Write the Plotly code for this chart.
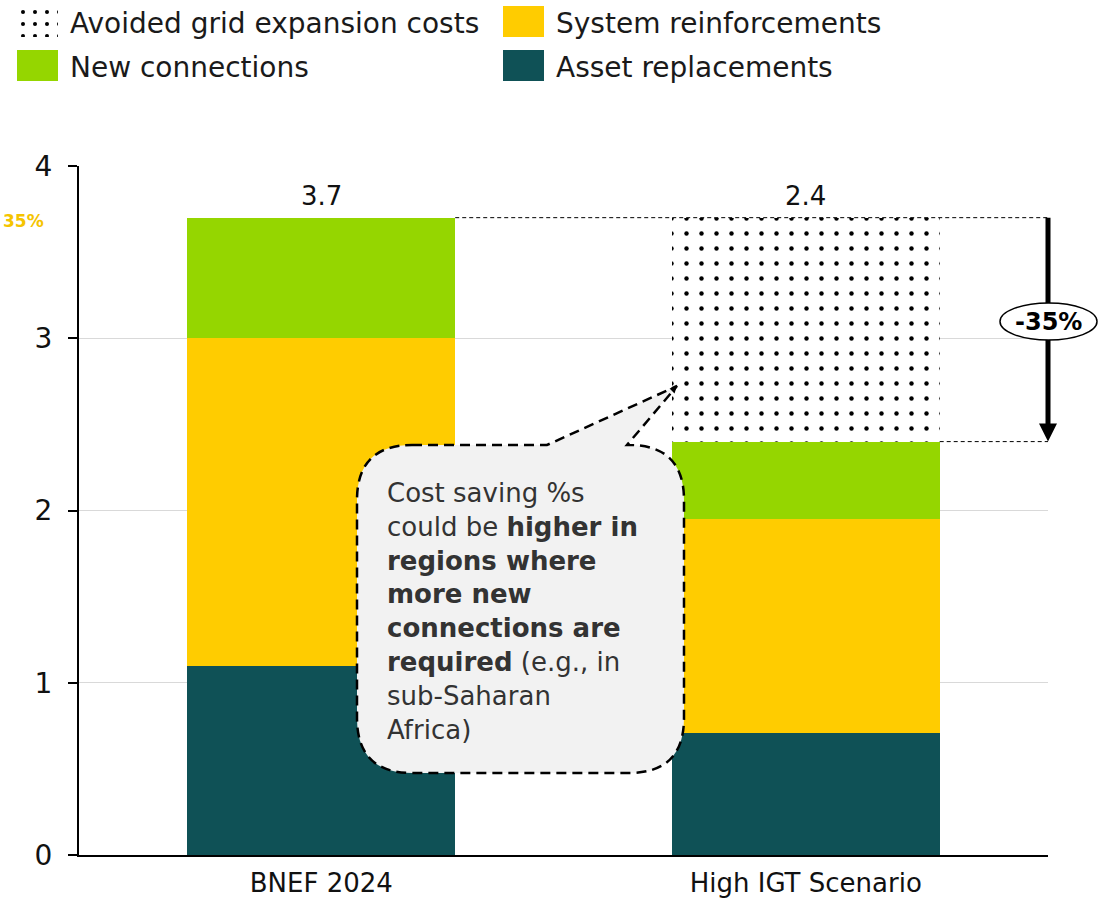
import plotly.graph_objects as go

# ---- data -------------------------------------------------------------
scenarios = ["BNEF 2024", "High IGT Scenario"]
asset_replacements = [1.1, 0.71]
system_reinforcements = [1.9, 1.24]
new_connections = [0.7, 0.45]
avoided_costs = [0.0, 1.3]
totals = [3.7, 2.4]
saving_label = "-35%"
side_label = "35%"
y_ticks = [0, 1, 2, 3, 4]

# ---- styling ----------------------------------------------------------
W, H = 1114, 907
FONT = "DejaVu Sans"
TEAL = "#0f5156"
YELLOW = "#ffcc00"
GREEN = "#95d600"
BAR_WIDTH = 0.553
DOTS = dict(shape=".", fgcolor="#000000", bgcolor="white", fgopacity=1,
            fillmode="replace", size=15, solidity=0.07)
DOTS_SWATCH = dict(shape=".", fgcolor="#000000", bgcolor="white", fgopacity=1,
                   fillmode="replace", size=12, solidity=0.09)

# plot box in pixels
PL, PR, PT, PB = 79, 1048, 166, 855


def fx(px):
    return px / W


def fy(py):
    return (H - py) / H


fig = go.Figure()

fig.add_bar(x=scenarios, y=asset_replacements, name="Asset replacements",
            marker=dict(color=TEAL, line=dict(width=0)), width=BAR_WIDTH)
fig.add_bar(x=scenarios, y=system_reinforcements, name="System reinforcements",
            marker=dict(color=YELLOW, line=dict(width=0)), width=BAR_WIDTH)
fig.add_bar(x=scenarios, y=new_connections, name="New connections",
            marker=dict(color=GREEN, line=dict(width=0)), width=BAR_WIDTH)
fig.add_bar(x=scenarios, y=avoided_costs, name="Avoided grid expansion costs",
            marker=dict(color="white", line=dict(width=0), pattern=DOTS),
            width=BAR_WIDTH)

# dotted legend swatch drawn as a one-bar trace on its own small axes
fig.add_bar(x=[0], y=[1], width=1, xaxis="x2", yaxis="y2", showlegend=False,
            hoverinfo="skip",
            marker=dict(color="white", line=dict(width=0), pattern=DOTS_SWATCH))

stack_tops = [a + b + c + d for a, b, c, d in
              zip(asset_replacements, system_reinforcements, new_connections, avoided_costs)]

annotations = []
for i, (top, tot) in enumerate(zip(stack_tops, totals)):
    annotations.append(dict(x=scenarios[i], y=top, xref="x", yref="y",
                            text=f"{tot:.1f}", showarrow=False, yanchor="bottom",
                            yshift=5, font=dict(family=FONT, size=26, color="#111111")))

# legend
legend_items = [
    ("Avoided grid expansion costs", None, 17, 6),
    ("System reinforcements", YELLOW, 503, 6),
    ("New connections", GREEN, 17, 50),
    ("Asset replacements", TEAL, 503, 50),
]
shapes = []
for label, color, sx, sy in legend_items:
    if color is not None:
        shapes.append(dict(type="rect", xref="paper", yref="paper",
                           x0=fx(sx), x1=fx(sx + 41), y0=fy(sy + 31), y1=fy(sy),
                           fillcolor=color, line=dict(width=0)))
    annotations.append(dict(x=fx(sx + 51), y=fy(sy + 17), xref="paper", yref="paper",
                            text=label, showarrow=False, xanchor="left", yanchor="middle",
                            font=dict(family=FONT, size=28, color="#1a1a1a")))

# dashed reference lines at both stack totals
half = BAR_WIDTH / 2
dash_line = dict(color="black", width=1, dash="4px,3px")
shapes.append(dict(type="line", xref="x", yref="y", x0=0 + half, x1=1.5,
                   y0=stack_tops[0], y1=stack_tops[0], line=dash_line, layer="above"))
shapes.append(dict(type="line", xref="x", yref="y", x0=1 + half, x1=1.5,
                   y0=totals[1], y1=totals[1], line=dash_line, layer="above"))

# reduction arrow on the right edge
head = 18 / ((PB - PT) / 4)
ax = fx(PR)
shapes.append(dict(type="line", xref="paper", yref="y", x0=ax, x1=ax,
                   y0=stack_tops[0], y1=totals[1] + head * 0.9,
                   line=dict(color="black", width=5), layer="above"))
shapes.append(dict(type="path", xref="paper", yref="y",
                   path=f"M {ax},{totals[1]} L {fx(PR - 9)},{totals[1] + head} "
                        f"L {fx(PR + 9)},{totals[1] + head} Z",
                   fillcolor="black", line=dict(width=0), layer="above"))
shapes.append(dict(type="circle", xref="paper", yref="paper",
                   x0=fx(1000), x1=fx(1097), y0=fy(340), y1=fy(303),
                   fillcolor="white", line=dict(color="black", width=1.5), layer="above"))
annotations.append(dict(x=fx(1048), y=fy(322), xref="paper", yref="paper",
                        text=f"<b>{saving_label}</b>", showarrow=False,
                        xanchor="center", yanchor="middle",
                        font=dict(family=FONT, size=24, color="black")))

# small label at the left edge
annotations.append(dict(x=fx(1), y=fy(221), xref="paper", yref="paper",
                        text=f"<b>{side_label}</b>", showarrow=False,
                        xanchor="left", yanchor="middle",
                        font=dict(family=FONT, size=17, color="#f5c400")))

# callout bubble with tail
L, R, T, B, r = 357, 684, 445, 773, 55
TIP = (677, 386)
pts = [
    ("M", [(L + r, T)]),
    ("L", [(547, T)]),
    ("L", [TIP]),
    ("L", [(627, T)]),
    ("L", [(R - r, T)]),
    ("Q", [(R, T), (R, T + r)]),
    ("L", [(R, B - r)]),
    ("Q", [(R, B), (R - r, B)]),
    ("L", [(L + r, B)]),
    ("Q", [(L, B), (L, B - r)]),
    ("L", [(L, T + r)]),
    ("Q", [(L, T), (L + r, T)]),
]
path = " ".join(cmd + " " + " ".join(f"{fx(x):.5f},{fy(y):.5f}" for x, y in p)
                for cmd, p in pts) + " Z"
shapes.append(dict(type="path", xref="paper", yref="paper", path=path,
                   fillcolor="#f2f2f2", line=dict(color="black", width=2.5, dash="10px,6px"),
                   layer="above"))
# small arrow tip at the end of the tail
annotations.append(dict(x=fx(TIP[0]), y=fy(TIP[1]), xref="paper", yref="paper",
                        showarrow=True, ax=-6, ay=6, axref="pixel", ayref="pixel",
                        arrowhead=2, arrowsize=0.7, arrowwidth=2, arrowcolor="black",
                        standoff=0, text=""))

callout = ("Cost saving %s<br>could be <b>higher in</b><br><b>regions where</b><br>"
           "<b>more new</b><br><b>connections are</b><br><b>required</b> (e.g., in<br>"
           "sub-Saharan<br>Africa)")
annotations.append(dict(x=fx(385), y=fy(476), xref="paper", yref="paper",
                        text=callout, showarrow=False, xanchor="left", yanchor="top",
                        align="left", font=dict(family=FONT, size=26, color="#333333")))

fig.update_layout(
    width=W, height=H,
    margin=dict(l=0, r=0, t=0, b=0),
    paper_bgcolor="white", plot_bgcolor="white",
    barmode="stack", bargap=1 - BAR_WIDTH,
    showlegend=False,
    font=dict(family=FONT, size=26, color="#111111"),
    xaxis=dict(domain=[fx(PL), fx(PR)], showline=True, linecolor="black", linewidth=2,
               ticks="", showgrid=False, zeroline=False, range=[-0.5, 1.5],
               tickfont=dict(size=26, color="#111111"), ticklabelstandoff=4,
               automargin=False, fixedrange=True),
    yaxis=dict(domain=[fy(PB), fy(PT)], range=[0, 4], tickvals=y_ticks,
               showline=True, linecolor="black", linewidth=2,
               ticks="outside", ticklen=9, tickwidth=2, tickcolor="black",
               showgrid=True, gridcolor="#d9d9d9", gridwidth=1, zeroline=False,
               tickfont=dict(size=28, color="#111111"), ticklabelstandoff=10,
               automargin=False, fixedrange=True),
    xaxis2=dict(domain=[fx(17), fx(58)], range=[-0.5, 0.5], visible=False,
                anchor="y2", automargin=False, fixedrange=True),
    yaxis2=dict(domain=[fy(37), fy(6)], range=[0, 1], visible=False,
                anchor="x2", automargin=False, fixedrange=True),
    shapes=shapes,
    annotations=annotations,
)

fig.write_html("out.html")
